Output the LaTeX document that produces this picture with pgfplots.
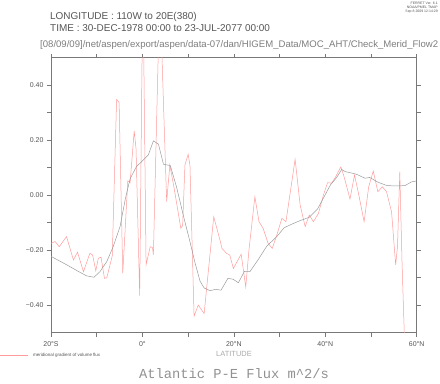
\documentclass[border=0pt]{standalone}
\usepackage{fontspec}
\setmainfont{Liberation Sans}
\newfontfamily\monofont{Liberation Mono}
\usepackage{pgfplots}
\pgfplotsset{compat=1.18}
\definecolor{redline}{RGB}{255,155,155}
\definecolor{grayline}{RGB}{155,155,155}
\definecolor{axisgray}{RGB}{120,120,120}
\definecolor{txtgray}{RGB}{85,85,85}
\definecolor{pathgray}{RGB}{125,125,125}
\definecolor{latgray}{RGB}{170,170,170}
\definecolor{titlegray}{RGB}{145,145,145}
\begin{document}
\begin{tikzpicture}
\useasboundingbox (0,0) rectangle (440bp,384bp);
\begin{axis}[
  at={(51bp,51.2bp)}, anchor=south west,
  scale only axis, width=365.7bp, height=275bp,
  xmin=-20, xmax=60, ymin=-0.5, ymax=0.5,
  xtick={-20,0,20,40,60},
  xticklabels={20°S,0°,20°N,40°N,60°N},
  minor xtick={-10,10,30,50},
  ytick={-0.4,-0.2,0,0.2,0.4},
  yticklabels={−0.40,−0.20,0.00,0.20,0.40},
  minor ytick={-0.3,-0.1,0.1,0.3},
  tick align=outside,
  major tick length=4bp, minor tick length=4bp,
  axis line style={draw=axisgray, line width=0.6bp},
  every tick/.style={draw=axisgray, line width=0.6bp},
  every minor tick/.style={draw=axisgray, line width=0.6bp},
  ticklabel style={font=\fontsize{7}{8}\selectfont, text=txtgray},
  xticklabel style={yshift=-1.5bp},
  clip=true,
]
\addplot[redline, line width=0.5bp] coordinates {
(-20.0,-0.175) (-19.1,-0.168) (-18.2,-0.187) (-16.6,-0.150) (-15.1,-0.235)
(-14.2,-0.207) (-12.9,-0.278) (-11.5,-0.211) (-10.9,-0.217) (-10.2,-0.275)
(-9.65,-0.229) (-9.06,-0.225) (-8.3,-0.302) (-7.8,-0.300) (-6.6,-0.22)
(-5.65,0.349) (-5.1,0.337) (-4.3,-0.284) (-3.2,0.053) (-2.7,0.045)
(-1.8,0.234) (-1.4,0.17) (-0.6,-0.365) (0.1,0.8) (0.8,-0.253)
(1.7,-0.187) (2.2,-0.19) (2.4,-0.217) (3.8,0.75) (5.3,-0.023)
(6.0,0.11) (7.0,0.02) (8.4,-0.12) (8.8,-0.11) (9.3,0.11)
(10.0,0.149) (10.4,0.11) (11.3,-0.44) (12.2,-0.399) (13.5,-0.43)
(15.6,-0.078) (17.0,-0.165) (17.4,-0.193) (18.4,-0.211) (19.1,-0.217)
(19.9,-0.266) (21.6,-0.214) (22.6,-0.333) (23.3,-0.20) (24.6,-0.005)
(25.5,-0.096) (26.4,-0.12) (27.5,-0.175) (28.4,-0.193) (29.3,-0.15)
(30.5,-0.084) (31.4,-0.096) (33.4,0.131) (34.5,-0.035) (35.6,-0.114)
(36.5,-0.072) (37.4,-0.096) (38.5,-0.066) (39.6,0.001) (40.5,0.046)
(41.4,0.044) (42.3,0.068) (43.4,0.103) (44.0,0.074) (44.8,0.025)
(45.4,-0.014) (46.4,0.074) (47.3,0.004) (48.5,-0.096) (49.5,0.031)
(50.5,0.088) (51.5,0.013) (52.5,0.031) (53.4,0.013) (54.5,-0.06)
(55.4,-0.253) (55.8,-0.187) (56.3,0.086) (56.8,-0.25) (57.3,-0.51)
(57.6,-0.7)
};
\addplot[grayline, line width=0.5bp] coordinates {
(-20,-0.222) (-18,-0.24) (-16,-0.258) (-14,-0.277) (-12.2,-0.293)
(-10.6,-0.298) (-9.3,-0.278) (-7.8,-0.241) (-6.4,-0.187) (-4.9,-0.114)
(-3.7,-0.01) (-2.7,0.06) (-1.3,0.105) (0.0,0.125) (1.3,0.147)
(2.4,0.198) (3.5,0.186) (4.6,0.113) (6.1,0.108) (7.5,0.028)
(8.9,-0.07) (10.4,-0.169) (11.5,-0.245) (12.6,-0.312) (13.5,-0.337)
(14.8,-0.347) (16.0,-0.342) (17.2,-0.345) (18.7,-0.302) (19.8,-0.305)
(21.0,-0.318) (22.3,-0.277) (23.5,-0.278) (25.4,-0.232) (27.2,-0.185)
(29.4,-0.15) (31.0,-0.118) (32.8,-0.104) (34.5,-0.092) (36.5,-0.08)
(38.3,-0.05) (39.6,-0.01) (41.1,0.037) (42.5,0.065) (43.6,0.094)
(44.4,0.086) (45.5,0.082) (46.9,0.076) (48.7,0.062) (49.7,0.065)
(51.6,0.047) (53.4,0.036) (54.9,0.034) (57.4,0.035) (58.9,0.049)
(60.0,0.052)
};
\end{axis}
% header texts
\node[anchor=west, inner sep=0pt, text=txtgray, font=\fontsize{10}{11}\selectfont] at (50bp,367bp) {LONGITUDE : 110W to 20E(380)};
\node[anchor=west, inner sep=0pt, text=txtgray, font=\fontsize{10}{11}\selectfont] at (50bp,356bp) {TIME : 30-DEC-1978 00:00 to 23-JUL-2077 00:00};
\node[anchor=west, inner sep=0pt, text=pathgray] at (40bp,339bp) {\resizebox{398bp}{!}{\fontsize{9}{10}\selectfont [08/09/09]/net/aspen/export/aspen/data-07/dan/HIGEM\_Data/MOC\_AHT/Check\_Merid\_Flow2}};
\node[anchor=north east, inner sep=0pt, align=right, text=txtgray, font=\fontsize{3.5}{4}\selectfont] at (438bp,382bp) {FERRET Ver. 6.1\\NOAA/PMEL TMAP\\Sep  8 2009 12:14:29};
% bottom texts
\node[inner sep=0pt, text=latgray, font=\fontsize{7.5}{8}\selectfont] at (234bp,30bp) {LATITUDE};
\draw[redline, line width=0.5bp] (0bp,29bp) -- (28bp,29bp);
\node[anchor=west, inner sep=0pt, text=txtgray, font=\fontsize{4.5}{5}\selectfont] at (33bp,29bp) {meridional gradient of volume flux};
\node[inner sep=0pt, text=titlegray, font=\monofont\fontsize{13.8}{14}\selectfont] at (234bp,10bp) {Atlantic P-E Flux m\textasciicircum 2/s};
\end{tikzpicture}
\end{document}
